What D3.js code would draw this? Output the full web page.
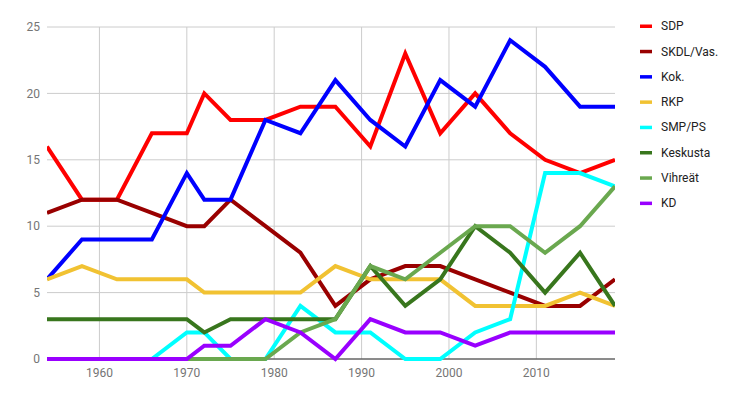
<!DOCTYPE html>
<html><head><meta charset="utf-8">
<script src="https://cdn.jsdelivr.net/npm/d3@7"></script>
<style>body{margin:0;background:#fff;}svg{display:block;font-family:Roboto,Arial,sans-serif;}</style>
</head><body><svg id="c" width="738" height="400"></svg>
<script>
const years = [1954,1958,1962,1966,1970,1972,1975,1979,1983,1987,1991,1995,1999,2003,2007,2011,2015,2019];
const seriesNames = ["SDP","SKDL/Vas.","Kok.","RKP","SMP/PS","Keskusta","Vihreät","KD"];
const seriesColors = ["#ff0000","#990000","#0000ff","#f1c232","#00ffff","#38761d","#6aa84f","#9900ff"];
const sdp      = [16,12,12,17,17,20,18,18,19,19,16,23,17,20,17,15,14,15];
const skdl     = [11,12,12,11,10,10,12,10,8,4,6,7,7,6,5,4,4,6];
const kok      = [6,9,9,9,14,12,12,18,17,21,18,16,21,19,24,22,19,19];
const rkp      = [6,7,6,6,6,5,5,5,5,7,6,6,6,4,4,4,5,4];
const smp      = [0,0,0,0,2,2,0,0,4,2,2,0,0,2,3,14,14,13];
const keskusta = [3,3,3,3,3,2,3,3,3,3,7,4,6,10,8,5,8,4];
const vihreat  = [0,0,0,0,0,0,0,0,2,3,7,6,8,10,10,8,10,13];
const kd       = [0,0,0,0,0,1,1,3,2,0,3,2,2,1,2,2,2,2];
const yTicks = [0,5,10,15,20,25];
const xTicks = [1960,1970,1980,1990,2000,2010];
const allSeries = [sdp,skdl,kok,rkp,smp,keskusta,vihreat,kd];

const svg = d3.select("#c");
const L=47,R=615,T=27,B=359;
const x = d3.scaleLinear().domain([1954,2019]).range([L,R]);
const y = d3.scaleLinear().domain([0,25]).range([B,T]);

svg.append("defs").append("clipPath").attr("id","clip")
  .append("rect").attr("x",L).attr("y",0).attr("width",R-L).attr("height",B+3);

const g = svg.append("g");
g.selectAll(".hg").data(yTicks).join("line")
  .attr("x1",L).attr("x2",R).attr("y1",d=>y(d)).attr("y2",d=>y(d))
  .attr("stroke","#cccccc").attr("stroke-width",1);
g.selectAll(".vg").data(xTicks).join("line")
  .attr("x1",d=>x(d)).attr("x2",d=>x(d)).attr("y1",T).attr("y2",B)
  .attr("stroke","#cccccc").attr("stroke-width",1);

g.selectAll(".yl").data(yTicks).join("text")
  .attr("x",L-7).attr("y",d=>y(d)).attr("dy","0.35em").attr("text-anchor","end")
  .attr("font-size",12).attr("fill","#757575").text(d=>d);
g.selectAll(".xl").data(xTicks).join("text")
  .attr("x",d=>x(d)).attr("y",B+18).attr("text-anchor","middle")
  .attr("font-size",12).attr("fill","#757575").text(d=>d);

g.append("line").attr("x1",L).attr("x2",R).attr("y1",B).attr("y2",B)
  .attr("stroke","#333333").attr("stroke-width",1);

const line = d3.line().x((d,i)=>x(years[i])).y(d=>y(d));
const lg = svg.append("g").attr("clip-path","url(#clip)");
allSeries.forEach((s,i)=>{
  lg.append("path").attr("d",line(s)).attr("fill","none")
    .attr("stroke",seriesColors[i]).attr("stroke-width",4).attr("stroke-linejoin","miter");
});

const leg = svg.append("g");
seriesNames.forEach((n,i)=>{
  const yy = 26 + i*25.3;
  leg.append("rect").attr("x",640).attr("y",yy-1.5).attr("width",12).attr("height",3.5).attr("fill",seriesColors[i]);
  leg.append("text").attr("x",661).attr("y",yy).attr("dy","0.35em")
    .attr("font-size",12).attr("fill","#222222").text(n);
});
</script></body></html>
